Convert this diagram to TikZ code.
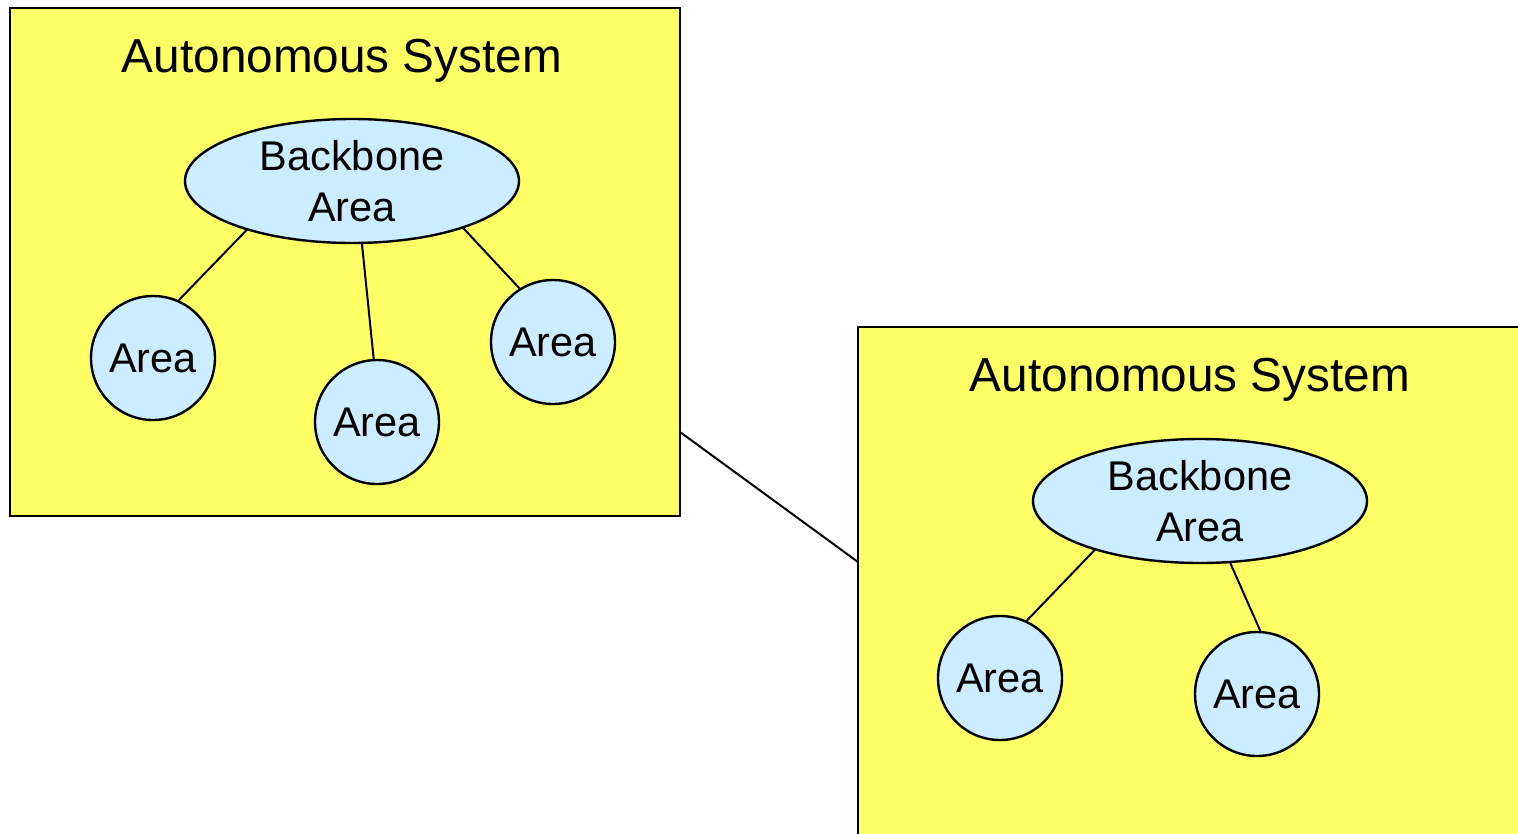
\documentclass[tikz,border=0pt]{standalone}
\usepackage{fontspec}
\setmainfont{Liberation Sans}
\usetikzlibrary{shapes.geometric}
\definecolor{asyellow}{HTML}{FFFF66}
\definecolor{areablue}{HTML}{CCECFF}
\begin{document}
\begin{tikzpicture}[x=1pt,y=-1pt,
  asbox/.style={draw=black,fill=asyellow,line width=2.8pt,rectangle},
  astitle/.style={font=\fontsize{47.7}{52}\selectfont,inner sep=0pt},
  backbone/.style={draw=black,fill=areablue,line width=2.4pt,ellipse,
    minimum width=334pt,minimum height=124pt,inner sep=0pt,align=center,
    font=\fontsize{41.5}{51}\selectfont},
  area/.style={draw=black,fill=areablue,line width=2.4pt,circle,
    minimum size=124pt,inner sep=0pt,font=\fontsize{41.5}{51}\selectfont},
  link/.style={draw=black,line width=2pt}]
\useasboundingbox (0,0) rectangle (1518,833);
\begin{scope}
\clip (0,0) rectangle (1518,833);
% first autonomous system
\draw[asbox] (10,8) rectangle (680,516);
\node[astitle,anchor=base] (t1) at (342,72) {Autonomous System};
\node[backbone] (bb1) at (352,181) {Backbone\\Area};
\node[area] (a11) at (153,358) {Area};
\node[area] (a12) at (377,422) {Area};
\node[area] (a13) at (553,342) {Area};
\draw[link] (bb1.205.7) -- (a11.66.7);
\draw[link] (bb1.279) -- (a12.93.6);
\draw[link] (bb1.337.5) -- (a13.122.7);
% second autonomous system
\draw[asbox] (858,327) rectangle (1540,860);
\node[astitle,anchor=base] (t2) at (1190,391) {Autonomous System};
\node[backbone] (bb2) at (1200,501) {Backbone\\Area};
\node[area] (a21) at (1000,678) {Area};
\node[area] (a22) at (1257,694) {Area};
\draw[link] (bb2.205.9) -- (a21.65);
\draw[link] (bb2.296.2) -- (a22.87);
% link between the two systems
\coordinate (e1) at (680,432);
\coordinate (e2) at (858,562);
\draw[link] (e1) -- (e2);
\end{scope}
\end{tikzpicture}
\end{document}
